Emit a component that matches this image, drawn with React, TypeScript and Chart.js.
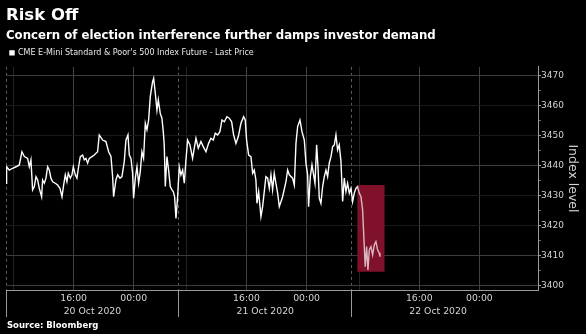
import React, { useEffect, useRef } from "react";
import { Chart, registerables } from "chart.js";

Chart.register(...registerables);

// ---- Data (hours since the first session opening, continuous trading time) ----
const hours = [
  0, 0.08, 0.44, 0.88, 1.33, 1.77, 2.12, 2.44, 2.88, 3.1,
  3.32, 3.54, 3.77, 3.99, 4.21, 4.43, 4.74, 4.87, 5.1, 5.32,
  5.54, 5.76, 5.98, 6.21, 6.56, 6.87, 7.18, 7.45, 7.67, 7.89,
  8.11, 8.29, 8.56, 8.78, 8.96, 9.22, 9.44, 9.66, 9.89, 10.2,
  10.42, 10.64, 10.86, 11.08, 11.44, 11.75, 12.19, 12.41, 12.86, 13.3,
  13.66, 13.97, 14.19, 14.32, 14.63, 14.86, 15.17, 15.43, 15.74, 15.96,
  16.23, 16.41, 16.63, 16.85, 16.98, 17.21, 17.43, 17.65, 17.87, 18.09,
  18.31, 18.54, 18.76, 18.98, 19.2, 19.51, 19.65, 19.87, 20.09, 20.27,
  20.53, 20.75, 20.93, 21.06, 21.2, 21.42, 21.64, 21.86, 22.09, 22.26,
  22.44, 22.62, 22.84, 23.06, 23.28, 23.51, 23.73, 23.95, 24.17, 24.48,
  24.83, 25.28, 25.59, 25.94, 26.25, 26.61, 26.96, 27.27, 27.59, 27.85,
  28.16, 28.47, 28.74, 29.05, 29.4, 29.71, 30.03, 30.29, 30.6, 30.91,
  31.27, 31.62, 31.84, 32.02, 32.29, 32.6, 32.82, 33.04, 33.26, 33.4,
  33.62, 33.93, 34.15, 34.37, 34.59, 34.82, 35.04, 35.26, 35.48, 35.7,
  35.92, 36.15, 36.37, 36.81, 37.26, 37.48, 37.7, 38.14, 38.37, 38.59,
  38.81, 39.12, 39.39, 39.7, 39.92, 40.14, 40.27, 40.5, 40.72, 40.94,
  41.12, 41.34, 41.52, 41.69, 41.91, 42.14, 42.36, 42.58, 42.8, 43.02,
  43.25, 43.47, 43.69, 43.91, 44.13, 44.35, 44.58, 44.8, 45.02, 45.24,
  45.46, 45.69, 45.91, 46.13, 46.35, 46.57, 46.79, 47.02, 47.24, 47.46,
  47.68, 47.81, 47.99, 48.17, 48.35, 48.57, 48.79, 49.01, 49.23, 49.45,
  49.68, 49.77,
];

const prices = [
  3434.0, 3439.5, 3438.4, 3439.0, 3439.5, 3440.1, 3444.5, 3442.9, 3442.3, 3439.5,
  3441.8, 3431.8, 3432.9, 3436.2, 3435.1, 3432.3, 3429.5, 3435.1, 3434.0, 3435.7,
  3439.5, 3438.4, 3435.7, 3434.5, 3434.0, 3433.4, 3432.3, 3429.5, 3433.4, 3436.8,
  3434.5, 3437.3, 3435.7, 3436.8, 3439.5, 3436.8, 3435.7, 3439.5, 3442.9, 3443.4,
  3441.8, 3442.3, 3440.7, 3442.3, 3442.9, 3443.4, 3444.5, 3450.1, 3448.4, 3447.9,
  3444.5, 3442.9, 3436.2, 3429.5, 3435.1, 3436.8, 3435.7, 3436.2, 3441.2, 3448.4,
  3450.1, 3443.4, 3442.3, 3437.3, 3429.0, 3435.7, 3439.5, 3434.0, 3437.9, 3444.5,
  3442.3, 3454.0, 3451.8, 3455.1, 3462.9, 3467.9, 3469.0, 3464.0, 3458.4, 3461.8,
  3457.3, 3455.7, 3451.2, 3446.8, 3432.9, 3442.9, 3438.4, 3432.9, 3431.8, 3431.2,
  3429.5, 3422.3, 3429.5, 3439.5, 3436.8, 3438.4, 3434.0, 3441.8, 3448.4, 3446.8,
  3442.3, 3449.0, 3445.7, 3447.9, 3446.2, 3444.5, 3447.3, 3449.0, 3448.4, 3450.7,
  3450.1, 3451.2, 3455.1, 3454.5, 3456.2, 3455.7, 3454.5, 3450.1, 3447.3, 3449.5,
  3454.0, 3456.2, 3455.1, 3448.4, 3443.4, 3442.9, 3437.3, 3438.4, 3435.1, 3427.3,
  3431.2, 3422.9, 3426.2, 3431.2, 3436.2, 3435.7, 3432.3, 3436.8, 3431.8, 3437.3,
  3434.0, 3430.7, 3426.2, 3429.5, 3434.5, 3438.4, 3436.8, 3435.7, 3433.4, 3447.3,
  3452.9, 3455.1, 3451.2, 3448.4, 3440.7, 3436.8, 3426.2, 3436.2, 3440.1, 3436.8,
  3434.0, 3446.8, 3439.5, 3429.0, 3427.3, 3432.9, 3436.2, 3438.4, 3436.2, 3440.7,
  3442.9, 3446.2, 3446.8, 3450.1, 3445.1, 3446.8, 3441.2, 3427.9, 3435.7, 3431.2,
  3434.0, 3430.7, 3432.3, 3427.9, 3430.7, 3432.3, 3432.9, 3430.7, 3429.5, 3425.1,
  3412.9, 3406.2, 3412.9, 3405.1, 3411.8, 3412.9, 3410.1, 3413.4, 3414.5, 3411.8,
  3410.7, 3409.5,
];

const seriesLabel = "CME E-Mini Standard & Poor's 500 Index Future - Last Price";

// x-axis structure (hours)
const sessionStarts = [0, 23, 46];
const hourMarks = [1, 24, 47];
const timeTicks = [9, 17, 32, 40, 55, 63];
const timeLabels = ["16:00", "00:00", "16:00", "00:00", "16:00", "00:00"];
const dayCenters = [11.5, 34.5, 57.5];
const dayLabels = ["20 Oct 2020", "21 Oct 2020", "22 Oct 2020"];
const xMin = 0;
const xMax = 70.8;

// y-axis
const yMin = 3398.4;
const yMax = 3472.8;
const yTicks = [3400, 3405, 3410, 3415, 3420, 3425, 3430, 3435, 3440, 3445, 3450, 3455, 3460, 3465, 3470];
const yStrongLines = [3400, 3410, 3440, 3470];

// highlighted region
const boxX = [46.77, 50.37];
const boxY = [3404.5, 3433.4];

const near = (a: number, b: number) => Math.abs(a - b) < 1e-6;
const inList = (v: number, list: number[]) => list.some((t) => near(t, v));

const BOX_SOLID = "rgb(128,18,42)";
const BOX_TINT = "rgba(128,18,42,0.3)";

function drawBox(chart: any, fill: string) {
  const { ctx, scales } = chart;
  const x = scales.x;
  const y = scales.y;
  const l = x.getPixelForValue(boxX[0]);
  const r = x.getPixelForValue(boxX[1]);
  const t = y.getPixelForValue(boxY[1]);
  const b = y.getPixelForValue(boxY[0]);
  ctx.save();
  ctx.fillStyle = fill;
  ctx.fillRect(l, t, r - l, b - t);
  ctx.restore();
}

const highlightPlugin = {
  id: "highlightBox",
  beforeDatasetsDraw(chart: any) {
    drawBox(chart, BOX_SOLID);
  },
  afterDatasetsDraw(chart: any) {
    drawBox(chart, BOX_TINT);
  },
};

const bgPlugin = {
  id: "bg",
  beforeDraw(chart: any) {
    const { ctx, width, height } = chart;
    ctx.save();
    ctx.fillStyle = "#000";
    ctx.fillRect(0, 0, width, height);
    ctx.restore();
  },
};

const xTickValues = [...sessionStarts, ...hourMarks, ...timeTicks, ...dayCenters].sort((a, b) => a - b);

export default function App() {
  const ref = useRef<HTMLCanvasElement>(null);

  useEffect(() => {
    if (!ref.current) return;
    const chart = new Chart(ref.current, {
      type: "line",
      data: {
        datasets: [
          {
            label: seriesLabel,
            data: hours.map((h, i) => ({ x: h, y: prices[i] })),
            borderColor: "#ffffff",
            backgroundColor: "#ffffff",
            borderWidth: 1.4,
            pointRadius: 0,
            tension: 0,
          },
        ],
      },
      options: {
        animation: false,
        responsive: false,
        maintainAspectRatio: false,
        devicePixelRatio: 1,
        events: [],
        layout: { padding: { left: 6, right: 0, top: 0, bottom: 0 } },
        plugins: {
          tooltip: { enabled: false },
          title: {
            display: true,
            text: "Risk Off",
            align: "start",
            color: "#ffffff",
            font: { family: "DejaVu Sans", size: 16.5, weight: "bold", lineHeight: 1.2 },
            padding: { top: 6, bottom: 0 },
          },
          subtitle: {
            display: true,
            text: "Concern of election interference further damps investor demand",
            align: "start",
            color: "#ffffff",
            font: { family: "DejaVu Sans", size: 11.75, weight: "bold", lineHeight: 1.2 },
            padding: { top: 3, bottom: 2 },
          },
          legend: {
            display: true,
            position: "top",
            align: "start",
            labels: {
              color: "#e8e8e8",
              font: { family: "DejaVu Sans", size: 8 },
              boxWidth: 4,
              boxHeight: 4,
              padding: 4,
            },
          },
        },
        scales: {
          x: {
            type: "linear",
            position: "bottom",
            min: xMin,
            max: xMax,
            afterBuildTicks: (scale: any) => {
              scale.ticks = xTickValues.map((v) => ({ value: v }));
            },
            afterFit: (scale: any) => {
              scale.height = 44;
            },
            ticks: {
              autoSkip: false,
              maxRotation: 0,
              minRotation: 0,
              padding: -25,
              color: "#d4d4d4",
              font: { family: "DejaVu Sans", size: 9.3, lineHeight: 1.37 },
              callback: (value: any) => {
                const v = Number(value);
                const ti = timeTicks.findIndex((t) => near(t, v));
                if (ti >= 0) return timeLabels[ti];
                const di = dayCenters.findIndex((t) => near(t, v));
                if (di >= 0) return ["", dayLabels[di]];
                return "";
              },
            },
            grid: {
              drawOnChartArea: true,
              tickLength: 27,
              lineWidth: 1,
              color: (ctx: any) => {
                const v = ctx.tick ? ctx.tick.value : NaN;
                if (inList(v, sessionStarts)) return "#5e5e5e";
                if (inList(v, timeTicks)) return "#424242";
                if (inList(v, hourMarks)) return "#232323";
                return "rgba(0,0,0,0)";
              },
              tickColor: (ctx: any) => {
                const v = ctx.tick ? ctx.tick.value : NaN;
                return inList(v, sessionStarts) ? "#9a9a9a" : "rgba(0,0,0,0)";
              },
            },
            border: {
              display: true,
              color: "#9a9a9a",
              width: 1,
              dash: (ctx: any) => {
                const v = ctx.tick ? ctx.tick.value : NaN;
                return inList(v, sessionStarts) ? [3, 3] : [];
              },
            },
          },
          y: {
            type: "linear",
            position: "right",
            min: yMin,
            max: yMax,
            afterBuildTicks: (scale: any) => {
              scale.ticks = yTicks.map((v) => ({ value: v }));
            },
            afterFit: (scale: any) => {
              scale.width = 48;
            },
            ticks: {
              autoSkip: false,
              padding: 0,
              color: "#d4d4d4",
              font: { family: "DejaVu Sans", size: 9 },
              callback: (value: any) => (Number(value) % 10 === 0 ? String(value) : ""),
            },
            grid: {
              tickLength: 3,
              color: (ctx: any) => {
                const v = ctx.tick ? ctx.tick.value : NaN;
                if (inList(v, yStrongLines)) return "#3c3c3c";
                if (v % 10 === 0) return "#1a1a1a";
                return "rgba(0,0,0,0)";
              },
              tickColor: (ctx: any) => {
                const v = ctx.tick ? ctx.tick.value : NaN;
                return v % 10 === 0 ? "#a0a0a0" : "#6a6a6a";
              },
            },
            border: { display: true, color: "#9a9a9a", width: 1 },
            title: {
              display: true,
              text: "Index level",
              color: "#d4d4d4",
              font: { family: "DejaVu Sans", size: 12.5, lineHeight: 1.2 },
              padding: { top: 6, bottom: 0 },
            },
          },
        },
      },
      plugins: [bgPlugin, highlightPlugin],
    } as any);
    return () => chart.destroy();
  }, []);

  return (
    <div
      style={{
        position: "fixed",
        left: 0,
        top: 0,
        width: 586,
        height: 334,
        background: "#000",
        overflow: "hidden",
      }}
    >
      <canvas ref={ref} width={586} height={334} style={{ display: "block", width: 586, height: 334 }} />
      <div
        style={{
          position: "absolute",
          left: 7,
          top: 320,
          color: "#ffffff",
          fontFamily: "DejaVu Sans",
          fontWeight: "bold",
          fontSize: 8.5,
          lineHeight: "11px",
          whiteSpace: "nowrap",
        }}
      >
        Source: Bloomberg
      </div>
    </div>
  );
}
